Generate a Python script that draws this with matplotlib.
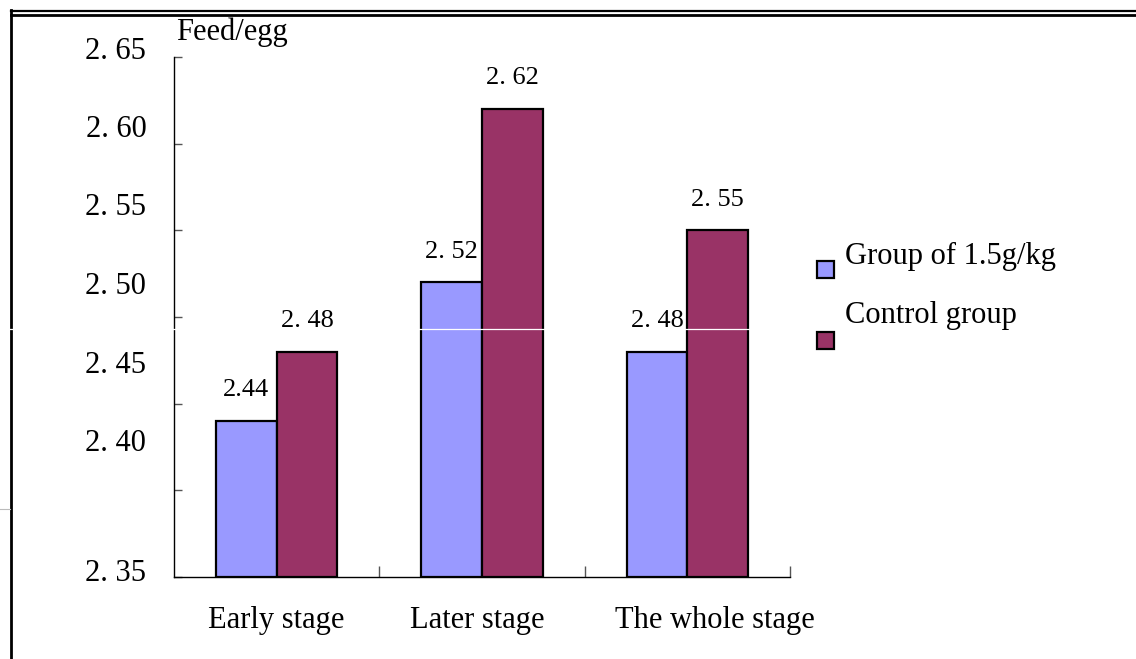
import numpy as np
import matplotlib.pyplot as plt
import matplotlib.transforms as mtransforms
from matplotlib.lines import Line2D
from matplotlib.patches import Rectangle

plt.rcParams['font.family'] = ['Liberation Serif', 'DejaVu Serif']

# feed-to-egg ratio by stage
stages = ['Early stage', 'Later stage', 'The whole stage']
treated = [2.44, 2.52, 2.48]
control = [2.48, 2.62, 2.55]
treated_labels = ['2.44', '2. 52', '2. 48']
control_labels = ['2. 48', '2. 62', '2. 55']
series_names = ['Group of 1.5g/kg', 'Control group']
ytick_values = [2.35, 2.40, 2.45, 2.50, 2.55, 2.60, 2.65]
ytick_labels = ['2. 35', '2. 40', '2. 45', '2. 50', '2. 55', '2. 60', '2. 65']

BLUE = '#9999FF'
PLUM = '#993366'
W, H = 1136, 659

fig = plt.figure(figsize=(W / 100, H / 100), dpi=100)
ax = fig.add_axes([174 / W, (H - 577) / H, 616 / W, 520 / H])
ax.patch.set_alpha(0)

x = np.arange(len(stages)) + 0.5
bw = 0.295
ax.bar(x - bw / 2, [v - 2.35 for v in treated], bw, bottom=2.35,
       color=BLUE, edgecolor='black', linewidth=1.6, zorder=3)
ax.bar(x + bw / 2, [v - 2.35 for v in control], bw, bottom=2.35,
       color=PLUM, edgecolor='black', linewidth=1.6, zorder=3)

for xi, v, lab in zip(x - bw / 2, treated, treated_labels):
    ax.annotate(lab, (xi, v), xytext=(0, 22), textcoords='offset points',
                ha='center', va='center', fontsize=19, zorder=6,
                bbox=dict(fc='white', ec='none', pad=0.5))
for xi, v, lab in zip(x + bw / 2, control, control_labels):
    ax.annotate(lab, (xi, v), xytext=(0, 22), textcoords='offset points',
                ha='center', va='center', fontsize=19, zorder=6,
                bbox=dict(fc='white', ec='none', pad=0.5))

ax.set_xlim(0, 3)
ax.set_ylim(2.35, 2.65)
ax.set_yticks(ytick_values)
ax.set_yticklabels([])
ax.tick_params(axis='y', direction='in', length=6, width=1, color='#555555')
ax.set_xticks([1, 2, 3])
ax.set_xticklabels([])
ax.tick_params(axis='x', which='major', direction='in', length=8, width=1, color='#555555')

# category names sit a little off-centre, the last one pushed right
name_shift = [0, -5, 28]
for xi, name, dx in zip(x, stages, name_shift):
    off = mtransforms.ScaledTranslation(dx / 100, 0, fig.dpi_scale_trans)
    ax.text(xi, -0.083, name, transform=ax.get_xaxis_transform() + off,
            ha='center', va='center', fontsize=22)

for side in ['top', 'right']:
    ax.spines[side].set_visible(False)
for side in ['left', 'bottom']:
    ax.spines[side].set_linewidth(1)

# y labels drift upward from their ticks, as in the source layout
label_pos = [0.006, 0.256, 0.407, 0.558, 0.710, 0.860, 1.010]
for frac, lab in zip(label_pos, ytick_labels):
    ax.text(-0.045, frac, lab, transform=ax.transAxes, ha='right', va='center',
            fontsize=22)

fig.text(176 / W, 1 - 32 / H, 'Feed/egg', ha='left', va='center', fontsize=22)

# legend drawn by hand
fig.add_artist(Rectangle((817 / W, 1 - 278 / H), 17 / W, 17 / H, facecolor=BLUE,
                         edgecolor='black', linewidth=1.6, transform=fig.transFigure))
fig.add_artist(Rectangle((817 / W, 1 - 349 / H), 17 / W, 17 / H, facecolor=PLUM,
                         edgecolor='black', linewidth=1.6, transform=fig.transFigure))
fig.text(845 / W, 1 - 256 / H, series_names[0], ha='left', va='center', fontsize=22)
fig.text(845 / W, 1 - 316 / H, series_names[1], ha='left', va='center', fontsize=22)

# outer frame: double rule on top, single rule on the left
fig.add_artist(Line2D([11 / W, 1], [1 - 10.5 / H] * 2, color='black', lw=1.6,
                      transform=fig.transFigure, zorder=-1))
fig.add_artist(Line2D([11 / W, 1], [1 - 14.5 / H] * 2, color='black', lw=2.0,
                      transform=fig.transFigure, zorder=-1))
fig.add_artist(Line2D([11 / W] * 2, [0, 1 - 10 / H], color='black', lw=2.0,
                      transform=fig.transFigure, zorder=-1))
fig.add_artist(Line2D([0, 10 / W], [1 - 509 / H] * 2, color='#bbbbbb', lw=0.8,
                      transform=fig.transFigure, zorder=-1))

# thin white seam across the page, under the value labels
seam = Line2D([0, 1], [1 - 329 / H] * 2, color='white', lw=0.9,
              transform=fig.transFigure, zorder=5, clip_on=False)
ax.add_line(seam)

fig.savefig('out.png', dpi=100)
